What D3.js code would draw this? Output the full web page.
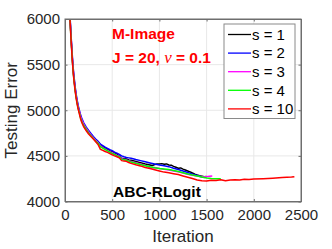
<!DOCTYPE html>
<html>
<head>
<meta charset="utf-8">
<script src="https://cdn.jsdelivr.net/npm/d3@7"></script>
<style>
  body { margin: 0; background: #fff; }
  svg { display: block; font-family: "Liberation Sans", Arial, sans-serif; }
</style>
</head>
<body>
<script>
// data: [iteration, testing error]
var s1 = [[40,6290],[50,6075],[60,5875],[70,5695],[80,5530],[90,5400],[100,5300],[110,5215],[120,5140],[130,5085],[140,5030],[150,4990],[165,4930],[180,4885],[200,4840],[225,4800],[250,4765],[275,4730],[300,4700],[325,4672],[350,4650],[375,4622],[400,4600],[425,4585],[450,4570],[475,4555],[500,4545],[525,4530],[550,4520],[565,4495],[580,4500],[600,4475],[625,4470],[650,4465],[675,4455],[700,4452],[750,4438],[800,4425],[850,4410],[900,4400],[925,4395],[950,4405],[975,4412],[1000,4410],[1025,4415],[1050,4408],[1075,4412],[1100,4400],[1125,4398],[1150,4385],[1175,4375],[1200,4365],[1225,4368],[1250,4355],[1275,4345],[1300,4335],[1325,4325],[1350,4312],[1375,4300],[1400,4290],[1425,4282],[1450,4278],[1475,4272],[1500,4275]];
var s2 = [[40,6320],[50,6100],[60,5900],[70,5720],[80,5560],[90,5430],[100,5330],[110,5240],[120,5165],[130,5105],[140,5050],[150,5010],[165,4950],[180,4905],[200,4860],[225,4815],[250,4780],[275,4745],[300,4712],[325,4685],[350,4660],[375,4628],[400,4612],[425,4595],[450,4582],[475,4568],[500,4558],[525,4540],[550,4530],[575,4515],[600,4500],[625,4490],[650,4482],[675,4478],[700,4474],[750,4460],[800,4448],[850,4435],[900,4422],[950,4410],[1000,4400],[1050,4392],[1100,4382],[1150,4365],[1200,4350],[1250,4335],[1300,4318],[1350,4300],[1400,4285],[1450,4268],[1480,4262]];
var s3 = [[40,6300],[50,6080],[60,5880],[70,5700],[80,5540],[90,5410],[100,5310],[110,5225],[120,5150],[130,5090],[140,5040],[150,4995],[165,4935],[180,4890],[200,4845],[225,4800],[250,4765],[275,4730],[300,4700],[325,4670],[350,4645],[375,4610],[400,4590],[425,4575],[450,4560],[475,4545],[500,4535],[525,4520],[550,4505],[575,4495],[600,4470],[625,4462],[650,4455],[675,4445],[700,4438],[750,4425],[800,4410],[850,4395],[900,4368],[950,4372],[1000,4362],[1050,4352],[1100,4345],[1150,4335],[1200,4325],[1250,4312],[1300,4298],[1350,4288],[1400,4278],[1450,4270],[1500,4272],[1530,4278],[1560,4280]];
var s4 = [[40,6280],[50,6060],[60,5860],[70,5680],[80,5515],[90,5385],[100,5290],[110,5200],[120,5130],[130,5070],[140,5020],[150,4980],[165,4915],[180,4870],[200,4830],[225,4790],[250,4752],[275,4720],[300,4690],[325,4662],[350,4638],[375,4600],[400,4585],[425,4570],[450,4555],[475,4540],[500,4528],[525,4515],[550,4500],[575,4490],[600,4460],[625,4458],[650,4452],[675,4442],[700,4432],[750,4420],[800,4405],[850,4392],[900,4380],[950,4370],[1000,4362],[1050,4356],[1100,4350],[1150,4340],[1200,4328],[1250,4315],[1300,4302],[1350,4290],[1400,4280],[1450,4268],[1500,4258],[1550,4252],[1600,4250],[1650,4248]];
var s10 = [[40,6260],[50,6050],[60,5850],[70,5670],[80,5505],[90,5375],[100,5275],[110,5190],[120,5120],[130,5060],[140,5010],[150,4970],[165,4905],[180,4860],[200,4815],[225,4775],[250,4740],[275,4712],[300,4685],[325,4655],[350,4625],[375,4572],[400,4560],[425,4548],[450,4538],[475,4525],[500,4512],[525,4500],[550,4490],[575,4478],[600,4448],[625,4445],[650,4440],[675,4428],[700,4418],[750,4402],[800,4390],[850,4372],[900,4362],[950,4348],[1000,4335],[1050,4322],[1100,4315],[1150,4305],[1200,4295],[1250,4280],[1300,4266],[1350,4252],[1400,4236],[1450,4228],[1500,4225],[1550,4234],[1600,4230],[1650,4238],[1700,4228],[1750,4235],[1800,4238],[1850,4236],[1900,4244],[1950,4240],[2000,4246],[2100,4250],[2200,4256],[2300,4262],[2400,4268],[2430,4272]];

var seriesNames = ['s = 1', 's = 2', 's = 3', 's = 4', 's = 10'];
var seriesColors = ['#000000', '#0000ff', '#ff00ff', '#00ff00', '#ff0000'];
var xTicks = [0, 500, 1000, 1500, 2000, 2500];
var yTicks = [4000, 4500, 5000, 5500, 6000];

;(() => {
    var width = 332, height = 249;
    var left = 65, right = 301, plotTop = 19, bottom = 201.5; // axes box

    var svg = d3.select('body').append('svg')
        .attr('width', width)
        .attr('height', height);

    var x = d3.scaleLinear().domain([0, 2500]).range([left, right]),
        y = d3.scaleLinear().domain([4000, 6000]).range([bottom, plotTop]);

    // grid
    svg.append('g').selectAll('line')
        .data(xTicks.slice(1, -1))
        .enter().append('line')
        .attr('x1', d => x(d)).attr('x2', d => x(d))
        .attr('y1', plotTop).attr('y2', bottom)
        .attr('stroke', '#e8e8e8');
    svg.append('g').selectAll('line')
        .data(yTicks.slice(1, -1))
        .enter().append('line')
        .attr('x1', left).attr('x2', right)
        .attr('y1', d => y(d)).attr('y2', d => y(d))
        .attr('stroke', '#e8e8e8');

    // curves
    svg.append('clipPath').attr('id', 'clip')
        .append('rect')
        .attr('x', left).attr('y', plotTop)
        .attr('width', right - left).attr('height', bottom - plotTop);

    var line = d3.line()
        .x(d => x(d[0]))
        .y(d => y(d[1]));

    var data = [s1, s2, s3, s4, s10];
    svg.append('g').attr('clip-path', 'url(#clip)')
        .selectAll('path')
        .data(data)
        .enter().append('path')
        .attr('d', d => line(d))
        .attr('fill', 'none')
        .attr('stroke', (d, i) => seriesColors[i])
        .attr('stroke-width', 1.5)
        .attr('stroke-linejoin', 'round');

    // axes, ticks inward on all sides (box on)
    var axisColor = '#6e6e6e', tickLen = 2.5, fmt = d3.format('d');
    var xb = svg.append('g').attr('transform', 'translate(0,' + bottom + ')')
        .call(d3.axisBottom(x).tickValues(xTicks).tickFormat(fmt).tickSizeInner(-tickLen).tickSizeOuter(0).tickPadding(6));
    var xt = svg.append('g').attr('transform', 'translate(0,' + plotTop + ')')
        .call(d3.axisTop(x).tickValues(xTicks).tickSizeInner(-tickLen).tickSizeOuter(0).tickFormat(''));
    var yl = svg.append('g').attr('transform', 'translate(' + left + ',0)')
        .call(d3.axisLeft(y).tickValues(yTicks).tickFormat(fmt).tickSizeInner(-tickLen).tickSizeOuter(0).tickPadding(5));
    var yr = svg.append('g').attr('transform', 'translate(' + right + ',0)')
        .call(d3.axisRight(y).tickValues(yTicks).tickSizeInner(-tickLen).tickSizeOuter(0).tickFormat(''));

    [xb, xt, yl, yr].forEach(g => {
        g.select('.domain').attr('stroke', axisColor);
        g.selectAll('.tick line').attr('stroke', axisColor);
        g.selectAll('.tick text')
            .attr('fill', '#262626')
            .style('font-family', '"Liberation Sans", Arial, sans-serif')
            .style('font-size', '15px');
    });
    xb.selectAll('.tick text').attr('dy', '0.85em');
    svg.append('rect')
        .attr('x', left).attr('y', plotTop)
        .attr('width', right - left).attr('height', bottom - plotTop)
        .attr('fill', 'none').attr('stroke', axisColor);

    // axis labels
    svg.append('text')
        .attr('x', (left + right) / 2).attr('y', 242)
        .attr('text-anchor', 'middle')
        .attr('fill', '#262626')
        .style('font-size', '17px')
        .text('Iteration');
    svg.append('text')
        .attr('transform', 'translate(17,' + (plotTop + bottom) / 2 + ') rotate(-90)')
        .attr('text-anchor', 'middle')
        .attr('fill', '#262626')
        .style('font-size', '17px')
        .text('Testing Error');

    // annotations
    svg.append('text')
        .attr('x', 112).attr('y', 39)
        .attr('fill', '#ff0000').attr('font-weight', 'bold')
        .style('font-size', '15.5px')
        .text('M-Image');
    var t2 = svg.append('text')
        .attr('x', 112).attr('y', 63)
        .attr('fill', '#ff0000').attr('font-weight', 'bold')
        .style('font-size', '15.5px');
    t2.append('tspan').text('J = 20, ');
    t2.append('tspan').attr('font-family', '"Liberation Serif", "Times New Roman", serif')
        .attr('font-style', 'italic').attr('font-weight', 'normal').style('font-size', '17px').text('ν');
    t2.append('tspan').text(' = 0.1');
    svg.append('text')
        .attr('x', 113).attr('y', 197)
        .attr('fill', '#000').attr('font-weight', 'bold')
        .style('font-size', '15.5px')
        .text('ABC-RLogit');

    // legend
    var legX = 224, legY = 24, legW = 71, legH = 94.5, rowH = 18.6;
    svg.append('rect')
        .attr('x', legX).attr('y', legY)
        .attr('width', legW).attr('height', legH)
        .attr('fill', '#fff').attr('stroke', '#8a8a8a');
    var leg = svg.append('g').selectAll('g')
        .data(seriesNames)
        .enter().append('g')
        .attr('transform', (d, i) => 'translate(' + legX + ',' + (legY + 10.5 + i * rowH) + ')');
    leg.append('line')
        .attr('x1', 4).attr('x2', 27)
        .attr('stroke', (d, i) => seriesColors[i])
        .attr('stroke-width', 1.3);
    leg.append('text')
        .attr('x', 28).attr('dy', '0.35em')
        .attr('fill', '#000')
        .style('font-size', '15px')
        .text(d => d);
})();
</script>
</body>
</html>
